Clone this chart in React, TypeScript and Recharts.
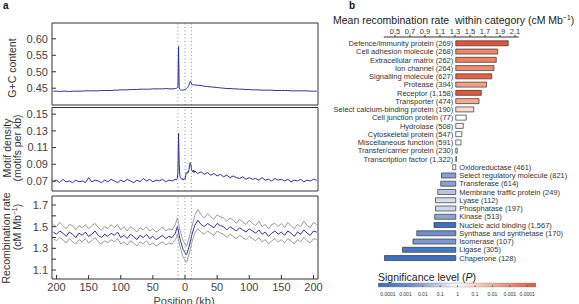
import React from 'react';
import {
  LineChart, Line, BarChart, Bar, XAxis, YAxis,
  ReferenceLine, LabelList, Cell,
} from 'recharts';

const FONT = '"Liberation Sans", Arial, sans-serif';
const INK = '#333';
const BLUE = '#2e3192';
const GREY = '#9a9a9a';

// --- panel a: profiles around gene positions (kb) ---
const POS = [
  -205, -200, -195, -190, -185, -180, -175, -170, -165, -160,
  -155, -150, -145, -140, -135, -130, -125, -120, -115, -110,
  -105, -100, -95, -90, -85, -80, -75, -70, -65, -60,
  -55, -50, -45, -40, -35, -30, -25, -20, -15,
  -14, -13, -12, -11, -10, -9, -8, -7, -6, -5, -4, -3, -2, -1,
  0, 1, 2, 3, 4, 5, 6, 7, 8, 9, 10, 11, 12, 13, 14,
  15, 20, 25, 30, 35, 40, 45, 50, 55, 60,
  65, 70, 75, 80, 85, 90, 95, 100, 105, 110,
  115, 120, 125, 130, 135, 140, 145, 150, 155, 160,
  165, 170, 175, 180, 185, 190, 195, 200, 205,
];

const GC_CONTENT = [
  0.441, 0.441, 0.440, 0.441, 0.441, 0.440, 0.441, 0.441, 0.441, 0.441,
  0.442, 0.442, 0.442, 0.442, 0.442, 0.443, 0.443, 0.443, 0.443, 0.444,
  0.444, 0.445, 0.445, 0.445, 0.446, 0.446, 0.446, 0.447, 0.447, 0.447,
  0.447, 0.448, 0.448, 0.448, 0.448, 0.449, 0.448, 0.448, 0.449,
  0.449, 0.450, 0.451, 0.453, 0.577, 0.452, 0.447, 0.445, 0.444, 0.444, 0.444, 0.445, 0.445, 0.446,
  0.446, 0.447, 0.448, 0.450, 0.452, 0.455, 0.459, 0.465, 0.470, 0.471, 0.463, 0.460, 0.460, 0.461, 0.460,
  0.460, 0.459, 0.458, 0.456, 0.455, 0.454, 0.453, 0.452, 0.451, 0.450,
  0.449, 0.449, 0.448, 0.448, 0.447, 0.447, 0.446, 0.446, 0.445, 0.445,
  0.445, 0.444, 0.444, 0.444, 0.444, 0.443, 0.443, 0.443, 0.443, 0.443,
  0.442, 0.442, 0.442, 0.442, 0.442, 0.442, 0.441, 0.441, 0.441,
];

const MOTIF_DENSITY = [
  0.069, 0.071, 0.068, 0.072, 0.069, 0.070, 0.068, 0.071, 0.069, 0.070,
  0.068, 0.074, 0.069, 0.071, 0.070, 0.068, 0.071, 0.069, 0.072, 0.070,
  0.068, 0.071, 0.069, 0.072, 0.070, 0.068, 0.071, 0.069, 0.073, 0.070,
  0.072, 0.069, 0.071, 0.070, 0.072, 0.069, 0.071, 0.070, 0.072,
  0.071, 0.072, 0.073, 0.080, 0.127, 0.090, 0.076, 0.074, 0.073, 0.072, 0.073, 0.071, 0.072, 0.073,
  0.072, 0.076, 0.080, 0.079, 0.081, 0.080, 0.083, 0.088, 0.092, 0.090, 0.084, 0.082, 0.081, 0.083, 0.080,
  0.082, 0.079, 0.081, 0.078, 0.080, 0.077, 0.079, 0.076, 0.078, 0.075,
  0.077, 0.074, 0.076, 0.074, 0.073, 0.075, 0.072, 0.074, 0.072, 0.073,
  0.071, 0.074, 0.071, 0.072, 0.070, 0.073, 0.071, 0.072, 0.070, 0.072,
  0.069, 0.071, 0.070, 0.072, 0.069, 0.071, 0.070, 0.072, 0.071,
];

const REC_RATE = [
  1.45, 1.43, 1.46, 1.44, 1.41, 1.45, 1.43, 1.40, 1.44, 1.42,
  1.45, 1.41, 1.43, 1.46, 1.42, 1.40, 1.43, 1.41, 1.44, 1.42,
  1.45, 1.40, 1.42, 1.39, 1.43, 1.41, 1.38, 1.42, 1.40, 1.43,
  1.39, 1.41, 1.38, 1.40, 1.42, 1.39, 1.41, 1.40, 1.44,
  1.46, 1.48, 1.50, 1.48, 1.45, 1.42, 1.39, 1.37, 1.35, 1.33, 1.31, 1.29, 1.28, 1.27,
  1.26, 1.25, 1.24, 1.25, 1.27, 1.29, 1.31, 1.33, 1.36, 1.38, 1.41, 1.43, 1.45, 1.47, 1.49,
  1.51, 1.56, 1.52, 1.50, 1.53, 1.51, 1.49, 1.53, 1.51, 1.50,
  1.47, 1.50, 1.48, 1.46, 1.49, 1.47, 1.45, 1.48, 1.46, 1.44,
  1.47, 1.43, 1.45, 1.41, 1.44, 1.46, 1.43, 1.45, 1.42, 1.46,
  1.44, 1.41, 1.45, 1.43, 1.47, 1.44, 1.42, 1.46, 1.45,
];

const REC_HI = [
  1.52, 1.50, 1.54, 1.51, 1.48, 1.52, 1.51, 1.47, 1.51, 1.49,
  1.52, 1.48, 1.51, 1.53, 1.49, 1.47, 1.50, 1.48, 1.52, 1.49,
  1.52, 1.47, 1.50, 1.46, 1.50, 1.48, 1.45, 1.49, 1.47, 1.50,
  1.46, 1.48, 1.45, 1.47, 1.50, 1.46, 1.48, 1.47, 1.52,
  1.54, 1.56, 1.58, 1.56, 1.53, 1.50, 1.47, 1.45, 1.43, 1.41, 1.39, 1.37, 1.36, 1.35,
  1.34, 1.33, 1.32, 1.33, 1.35, 1.37, 1.39, 1.41, 1.44, 1.46, 1.49, 1.51, 1.53, 1.55, 1.57,
  1.60, 1.66, 1.61, 1.58, 1.62, 1.59, 1.57, 1.61, 1.59, 1.58,
  1.55, 1.58, 1.56, 1.53, 1.57, 1.54, 1.52, 1.56, 1.53, 1.51,
  1.55, 1.50, 1.52, 1.48, 1.52, 1.53, 1.50, 1.53, 1.49, 1.54,
  1.51, 1.48, 1.52, 1.50, 1.55, 1.51, 1.49, 1.54, 1.52,
];

const REC_LO = [
  1.39, 1.37, 1.40, 1.38, 1.35, 1.39, 1.36, 1.34, 1.38, 1.36,
  1.39, 1.35, 1.37, 1.40, 1.36, 1.34, 1.37, 1.35, 1.38, 1.36,
  1.39, 1.34, 1.36, 1.33, 1.37, 1.35, 1.32, 1.36, 1.34, 1.37,
  1.33, 1.35, 1.32, 1.34, 1.36, 1.33, 1.35, 1.34, 1.38,
  1.39, 1.41, 1.43, 1.41, 1.38, 1.35, 1.32, 1.30, 1.28, 1.26, 1.24, 1.22, 1.21, 1.20,
  1.19, 1.18, 1.17, 1.18, 1.20, 1.22, 1.24, 1.26, 1.29, 1.31, 1.34, 1.36, 1.38, 1.40, 1.42,
  1.44, 1.48, 1.45, 1.43, 1.46, 1.44, 1.42, 1.46, 1.44, 1.43,
  1.40, 1.43, 1.41, 1.39, 1.42, 1.40, 1.38, 1.41, 1.39, 1.37,
  1.40, 1.36, 1.38, 1.34, 1.37, 1.39, 1.36, 1.38, 1.35, 1.39,
  1.37, 1.34, 1.38, 1.36, 1.40, 1.37, 1.35, 1.39, 1.38,
];

const X_DOMAIN = [-207, 207];
const X_TICKS = [-200, -150, -100, -50, 0, 50, 100, 150, 200];
const GENE_MARKS = [-11, 0, 10];

// --- panel b: mean recombination rate per gene category ---
const CATEGORIES = [
  'Defence/immunity protein (269)', 'Cell adhesion molecule (268)', 'Extracellular matrix (262)',
  'Ion channel (264)', 'Signalling molecule (627)', 'Protease (394)', 'Receptor (1,158)',
  'Transporter (474)', 'Select calcium-binding protein (190)', 'Cell junction protein (77)',
  'Hydrolase (508)', 'Cytoskeletal protein (547)', 'Miscellaneous function (591)',
  'Transfer/carrier protein (230)', 'Transcription factor (1,322)', 'Oxidoreductase (461)',
  'Select regulatory molecule (821)', 'Transferase (614)', 'Membrane traffic protein (249)',
  'Lyase (112)', 'Phosphatase (197)', 'Kinase (513)', 'Nucleic acid binding (1,567)',
  'Synthase and synthetase (170)', 'Isomerase (107)', 'Ligase (305)', 'Chaperone (128)',
];
const RATES = [
  2.01, 1.87, 1.85, 1.82, 1.79, 1.72, 1.65, 1.62, 1.55, 1.45, 1.41, 1.39, 1.38, 1.33, 1.32,
  1.27, 1.12, 1.11, 1.07, 1.04, 1.04, 1.03, 1.02, 0.79, 0.74, 0.60, 0.36,
];
const GENOME_MEAN = 1.31;
const RATE_TICKS = [0.5, 0.7, 0.9, 1.1, 1.3, 1.5, 1.7, 1.9, 2.1];

// fill per category, shaded by significance
const BAR_FILLS = [
  '#e4523b', '#ef8466', '#ee7f60', '#f08b6e', '#e85e45', '#f3a084', '#e5553d', '#f5ac92',
  '#f9dccf', '#ffffff', '#fbf1ec', '#ffffff', '#ffffff', '#ffffff', '#ffffff',
  '#ffffff', '#8aa0d6', '#8ba1d4', '#b8c6e8', '#d5ddf1', '#cdd8ef', '#8fa6d9', '#3d72bf',
  '#6e8fcf', '#7b98d3', '#4679c3', '#3b70bf',
];

// significance scale: nine labelled steps, the bar runs a little past both ends
const SIG_LABELS = ['0.0001', '0.001', '0.01', '0.1', '1', '0.1', '0.01', '0.001', '0.0001'];
const SIG_STEPS = [0, 1, 2, 3, 4, 5, 6, 7, 8];
const SIG_EXTENT = [-0.57, 8.5];

const profileRows = POS.map((pos, i) => ({
  pos, gc: GC_CONTENT[i], motif: MOTIF_DENSITY[i], rec: REC_RATE[i], recHi: REC_HI[i], recLo: REC_LO[i],
}));

const barRows = CATEGORIES.map((name, i) => ({ name, rate: RATES[i] }));
const scaleRows = [{ name: 'P', span: SIG_EXTENT }];

const tickText = { fontSize: 11, fill: '#444', fontFamily: FONT };

// axes are 1px thick so that recharts still draws them; margins absorb that pixel
const Profile = ({ top, height, margin, domain, ticks, fmt, xLabels, children }: any) => (
  <div style={{ position: 'absolute', left: 0, top }}>
    <LineChart width={330} height={height} data={profileRows} margin={margin}>
      <XAxis dataKey="pos" type="number" domain={X_DOMAIN} ticks={X_TICKS} interval={0} allowDataOverflow
        tickSize={-4} tickMargin={8} height={xLabels ? 20 : 1} stroke={INK}
        tick={xLabels ? tickText : false} tickFormatter={(v: number) => String(Math.abs(v))} />
      <XAxis xAxisId="top" orientation="top" dataKey="pos" type="number" domain={X_DOMAIN} ticks={X_TICKS}
        interval={0} allowDataOverflow tickSize={-4} height={1} stroke={INK} tick={false} />
      <YAxis type="number" domain={domain} ticks={ticks} interval={0} allowDataOverflow tickSize={-4}
        tickMargin={8} width={1} stroke={INK} tick={tickText} tickFormatter={fmt} />
      <YAxis yAxisId="right" orientation="right" type="number" domain={domain} ticks={ticks} interval={0}
        allowDataOverflow tickSize={-4} width={1} stroke={INK} tick={false} />
      {GENE_MARKS.map((x) => (
        <ReferenceLine key={x} x={x} stroke="#777" strokeDasharray="1 2.5" strokeWidth={0.8} />
      ))}
      {children}
    </LineChart>
  </div>
);

const BarLabel = (props: any) => {
  const { x, y, width, height, index } = props;
  const above = RATES[index] >= GENOME_MEAN;
  return (
    <text x={above ? x - 2.5 : x + width + 3.5} y={y + height / 2} dy="0.36em"
      textAnchor={above ? 'end' : 'start'} fontSize={7.5} fill={INK} fontFamily={FONT}>
      {CATEGORIES[index]}
    </text>
  );
};

export default function App() {
  return (
    <div style={{ position: 'absolute', left: 0, top: 0, width: 579, height: 304, background: '#fff', fontFamily: FONT, overflow: 'hidden' }}>
      <svg width={0} height={0} style={{ position: 'absolute' }}>
        <defs>
          <linearGradient id="sigGrad" x1="0" y1="0" x2="1" y2="0">
            <stop offset="0%" stopColor="#3a6db8" />
            <stop offset="22%" stopColor="#6f8fcc" />
            <stop offset="42%" stopColor="#d3dcf0" />
            <stop offset="50%" stopColor="#ffffff" />
            <stop offset="58%" stopColor="#fbe0d5" />
            <stop offset="78%" stopColor="#f19a7e" />
            <stop offset="100%" stopColor="#e4553b" />
          </linearGradient>
        </defs>
      </svg>

      <Profile top={0} height={110} margin={{ top: 22, right: 11, bottom: 4, left: 51 }}
        domain={[0.399, 0.648]} ticks={[0.45, 0.5, 0.55, 0.6]} fmt={(v: number) => v.toFixed(2)}>
        <Line dataKey="gc" stroke={BLUE} strokeWidth={1} dot={false} isAnimationActive={false} />
      </Profile>
      <Profile top={100} height={100} margin={{ top: 6.5, right: 11, bottom: 8, left: 51 }}
        domain={[0.058, 0.158]} ticks={[0.07, 0.09, 0.11, 0.13, 0.15]} fmt={(v: number) => v.toFixed(2)}>
        <Line dataKey="motif" stroke={BLUE} strokeWidth={1} dot={false} isAnimationActive={false} />
      </Profile>
      <Profile top={190} height={114} margin={{ top: 5, right: 11, bottom: 5, left: 51 }} xLabels
        domain={[1.017, 1.783]} ticks={[1.1, 1.2, 1.3, 1.4, 1.5, 1.6, 1.7]}
        fmt={(v: number) => (Math.round(v * 10) % 2 === 1 ? v.toFixed(1) : '')}>
        <Line dataKey="recHi" stroke={GREY} strokeWidth={1} dot={false} isAnimationActive={false} />
        <Line dataKey="recLo" stroke={GREY} strokeWidth={1} dot={false} isAnimationActive={false} />
        <Line dataKey="rec" stroke={BLUE} strokeWidth={1} dot={false} isAnimationActive={false} />
      </Profile>

      <div style={{ position: 'absolute', left: 300, top: 0 }}>
        <BarChart layout="vertical" width={279} height={270} data={barRows} barCategoryGap="22%"
          margin={{ top: 36, right: 60.25, bottom: 8, left: 83.75 }}>
          <XAxis type="number" orientation="top" domain={[0.35, 2.15]} ticks={RATE_TICKS} interval={0}
            allowDataOverflow height={1} tickSize={2} tickMargin={1.5} stroke={INK}
            tick={{ fontSize: 7.5, fill: INK, fontFamily: FONT }} tickFormatter={(v: number) => v.toFixed(1)} />
          <YAxis type="category" dataKey="name" hide padding={{ top: 2, bottom: 0 }} />
          <Bar dataKey={(d: any) => [Math.min(GENOME_MEAN, d.rate), Math.max(GENOME_MEAN, d.rate)]}
            stroke={INK} strokeWidth={0.7} isAnimationActive={false}>
            {barRows.map((r, i) => <Cell key={r.name} fill={BAR_FILLS[i]} />)}
            <LabelList dataKey="name" content={BarLabel} />
          </Bar>
        </BarChart>
      </div>

      {/* significance colour scale */}
      <div style={{ position: 'absolute', left: 370, top: 270 }}>
        <BarChart layout="vertical" width={180} height={34} data={scaleRows} barCategoryGap={0}
          margin={{ top: 13, right: 14.1, bottom: 5, left: 8.1 }}>
          <XAxis type="number" domain={SIG_EXTENT} ticks={SIG_STEPS} interval={0} allowDataOverflow
            height={12} tickSize={-1.5} tickMargin={6.5} stroke="#555" axisLine={false}
            tick={{ fontSize: 5, fill: INK, fontFamily: FONT }} tickFormatter={(v: number) => SIG_LABELS[v]} />
          <YAxis type="category" dataKey="name" hide />
          <Bar dataKey="span" fill="url(#sigGrad)" stroke="#8a8a8a" strokeWidth={0.4} isAnimationActive={false} />
        </BarChart>
      </div>

      <svg width={579} height={304} style={{ position: 'absolute', left: 0, top: 0, pointerEvents: 'none' }}
        fontFamily={FONT} fill={INK}>
        <text x={3} y={9} fontSize={10} fontWeight="bold" fill="#111">a</text>
        <text x={349} y={9} fontSize={10} fontWeight="bold" fill="#111">b</text>
        <text transform="translate(15.5,68) rotate(-90)" textAnchor="middle" fontSize={10.5}>G+C content</text>
        <text transform="translate(11,148) rotate(-90)" textAnchor="middle" fontSize={10.5}>Motif density</text>
        <text transform="translate(21,148) rotate(-90)" textAnchor="middle" fontSize={10.5}>(motifs per kb)</text>
        <text transform="translate(9.5,238) rotate(-90)" textAnchor="middle" fontSize={10.5}>Recombination rate</text>
        <text transform="translate(21,227) rotate(-90)" textAnchor="middle" fontSize={10.5}>
          (cM Mb<tspan fontSize={7} dy={-4}>−1</tspan><tspan dy={4}>)</tspan>
        </text>
        <text x={184} y={305} textAnchor="middle" fontSize={11} fill="#444">Position (kb)</text>
        <text x={333} y={23.5} fontSize={10.5} fill="#222" xmlSpace="preserve">
          Mean recombination rate  within category (cM Mb<tspan fontSize={6.8} dy={-3.8}>−1</tspan><tspan dy={3.8}>)</tspan>
        </text>
        <text x={378} y={280.5} fontSize={10.5} fill="#222">
          Significance level (<tspan fontStyle="italic">P</tspan>)
        </text>
      </svg>
    </div>
  );
}
